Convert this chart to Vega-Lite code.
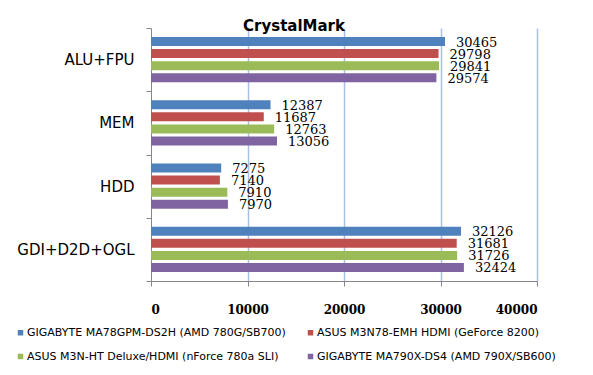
{
  "$schema": "https://vega.github.io/schema/vega-lite/v6.json",
  "autosize": {"type": "none"},
  "padding": {"left": 151, "top": 28, "right": 56, "bottom": 94},
  "width": 386,
  "height": 253,
  "background": "white",
  "title": {
    "text": "CrystalMark",
    "font": "DejaVu Sans",
    "fontSize": 15,
    "fontWeight": "bold",
    "color": "black",
    "anchor": "middle",
    "dx": -50,
    "dy": 23,
    "baseline": "alphabetic",
    "offset": -2
  },
  "data": {
    "values": [
      {"category": "ALU+FPU", "board": "GIGABYTE MA78GPM-DS2H (AMD 780G/SB700)", "value": 30465},
      {"category": "ALU+FPU", "board": "ASUS M3N78-EMH HDMI (GeForce 8200)", "value": 29798},
      {"category": "ALU+FPU", "board": "ASUS M3N-HT Deluxe/HDMI (nForce 780a SLI)", "value": 29841},
      {"category": "ALU+FPU", "board": "GIGABYTE MA790X-DS4 (AMD 790X/SB600)", "value": 29574},
      {"category": "MEM", "board": "GIGABYTE MA78GPM-DS2H (AMD 780G/SB700)", "value": 12387},
      {"category": "MEM", "board": "ASUS M3N78-EMH HDMI (GeForce 8200)", "value": 11687},
      {"category": "MEM", "board": "ASUS M3N-HT Deluxe/HDMI (nForce 780a SLI)", "value": 12763},
      {"category": "MEM", "board": "GIGABYTE MA790X-DS4 (AMD 790X/SB600)", "value": 13056},
      {"category": "HDD", "board": "GIGABYTE MA78GPM-DS2H (AMD 780G/SB700)", "value": 7275},
      {"category": "HDD", "board": "ASUS M3N78-EMH HDMI (GeForce 8200)", "value": 7140},
      {"category": "HDD", "board": "ASUS M3N-HT Deluxe/HDMI (nForce 780a SLI)", "value": 7910},
      {"category": "HDD", "board": "GIGABYTE MA790X-DS4 (AMD 790X/SB600)", "value": 7970},
      {"category": "GDI+D2D+OGL", "board": "GIGABYTE MA78GPM-DS2H (AMD 780G/SB700)", "value": 32126},
      {"category": "GDI+D2D+OGL", "board": "ASUS M3N78-EMH HDMI (GeForce 8200)", "value": 31681},
      {"category": "GDI+D2D+OGL", "board": "ASUS M3N-HT Deluxe/HDMI (nForce 780a SLI)", "value": 31726},
      {"category": "GDI+D2D+OGL", "board": "GIGABYTE MA790X-DS4 (AMD 790X/SB600)", "value": 32424}
    ]
  },
  "encoding": {
    "y": {
      "field": "category",
      "type": "nominal",
      "sort": ["ALU+FPU", "MEM", "HDD", "GDI+D2D+OGL"],
      "scale": {"paddingInner": 0, "paddingOuter": 0},
      "axis": {
        "title": null,
        "tickBand": "extent",
        "tickSize": 5,
        "tickColor": "#868686",
        "domainColor": "#868686",
        "labelFont": "DejaVu Sans",
        "labelFontSize": 15,
        "labelColor": "black",
        "labelPadding": 12,
        "grid": false
      }
    },
    "yOffset": {
      "field": "board",
      "type": "nominal",
      "sort": ["GIGABYTE MA78GPM-DS2H (AMD 780G/SB700)", "ASUS M3N78-EMH HDMI (GeForce 8200)", "ASUS M3N-HT Deluxe/HDMI (nForce 780a SLI)", "GIGABYTE MA790X-DS4 (AMD 790X/SB600)"],
      "scale": {"paddingInner": 0.25, "paddingOuter": 0.76}
    },
    "x": {
      "field": "value",
      "type": "quantitative",
      "scale": {"domain": [0, 40000], "nice": false},
      "axis": {
        "title": null,
        "values": [0, 10000, 20000, 30000, 40000],
        "format": "d",
        "grid": true,
        "gridColor": {"condition": {"test": "datum.value === 0", "value": "transparent"}, "value": "#a9c0e4"},
        "gridWidth": 1.5,
        "tickSize": 5,
        "tickColor": "#868686",
        "domainColor": "#868686",
        "labelFont": "DejaVu Serif",
        "labelFontWeight": "bold",
        "labelFontSize": 12,
        "labelColor": "black",
        "labelPadding": 18
      }
    }
  },
  "layer": [
    {
      "mark": {"type": "bar"},
      "encoding": {
        "color": {
          "field": "board",
          "type": "nominal",
          "scale": {
            "domain": ["GIGABYTE MA78GPM-DS2H (AMD 780G/SB700)", "ASUS M3N78-EMH HDMI (GeForce 8200)", "ASUS M3N-HT Deluxe/HDMI (nForce 780a SLI)", "GIGABYTE MA790X-DS4 (AMD 790X/SB600)"],
            "range": ["#4f81bd", "#c0504d", "#9bbb59", "#8064a2"]
          },
          "legend": {
            "orient": "none",
            "legendX": -136,
            "legendY": 299,
            "direction": "horizontal",
            "columns": 2,
            "title": null,
            "padding": 0,
            "symbolType": "square",
            "symbolSize": 30,
            "symbolStrokeWidth": 0,
            "labelFont": "DejaVu Sans",
            "labelFontSize": 11,
            "labelColor": "black",
            "labelLimit": 400,
            "labelOffset": 1,
            "columnPadding": 19,
            "rowPadding": 12
          }
        }
      }
    },
    {
      "mark": {"type": "text", "align": "left", "baseline": "middle", "dx": 11, "dy": 1, "font": "DejaVu Serif", "fontSize": 13, "color": "black"},
      "encoding": {
        "text": {"field": "value", "type": "quantitative", "format": "d"}
      }
    }
  ],
  "config": {
    "view": {"stroke": null}
  }
}
